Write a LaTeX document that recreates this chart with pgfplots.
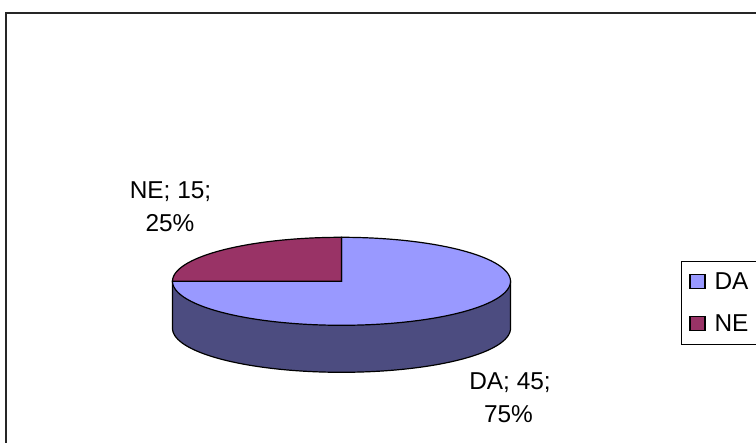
\documentclass[border=0pt]{standalone}
\usepackage{fontspec}
\setmainfont{Liberation Sans}
\usepackage{pgfplots}
\usepackage{pgfplotstable}
\pgfplotsset{compat=1.18}
\definecolor{cDA}{HTML}{9999FF}
\definecolor{cNE}{HTML}{993366}
\definecolor{cSide}{HTML}{4C4C80}
\pgfplotstableread{
label value
DA 45
NE 15
}\piedata
\begin{document}
\begin{tikzpicture}
\pgfplotstablegetelem{0}{value}\of\piedata \let\vDA\pgfplotsretval
\pgfplotstablegetelem{1}{value}\of\piedata \let\vNE\pgfplotsretval
\pgfmathsetmacro{\tot}{\vDA+\vNE}
\pgfmathsetmacro{\aEnd}{90-360*\vDA/\tot}
\pgfmathsetmacro{\aNE}{\aEnd-360*\vNE/\tot}
\def\cx{341.5}\def\cy{161.7}\def\rx{169}\def\ry{44}\def\dep{47}
\begin{axis}[scale only axis, width=756bp, height=443bp,
  xmin=0, xmax=756, ymin=0, ymax=443, hide axis, clip=false,
  legend style={at={(axis cs:681,182)}, anchor=north west, draw=black,
    line width=0.8bp, font=\fontsize{24.5}{29}\selectfont,
    inner xsep=8bp, inner ysep=11.5bp, row sep=23.5bp, column sep=9bp,
    nodes={inner sep=0pt}, cells={anchor=west}},
  legend image code/.code={\draw[#1, line width=1.1bp] (0bp,-6.3bp) rectangle (15bp,7.7bp);}]
% outer frame
\addplot[draw=black!85, line width=2bp, forget plot] coordinates {(759,430) (6,430) (6,-3)};
% side wall (front half belongs to DA)
\addplot[fill=cSide, draw=black, line width=1.2bp, domain=180:360, samples=120, forget plot]
  ({\cx+\rx*cos(x)},{\cy-\dep+\ry*sin(x)}) -- (axis cs:\cx+\rx,\cy) -- (axis cs:\cx-\rx,\cy) -- cycle;
% top face slices
\addplot[fill=cDA, draw=black, line width=1.2bp, domain=\aEnd:90, samples=160, forget plot]
  ({\cx+\rx*cos(x)},{\cy+\ry*sin(x)}) -- (axis cs:\cx,\cy) -- cycle;
\addplot[fill=cNE, draw=black, line width=1.2bp, domain=\aNE:\aEnd, samples=80, forget plot]
  ({\cx+\rx*cos(x)},{\cy+\ry*sin(x)}) -- (axis cs:\cx,\cy) -- cycle;
\addlegendimage{fill=cDA, draw=black}
\addlegendentry{DA}
\addlegendimage{fill=cNE, draw=black}
\addlegendentry{NE}
% data labels
\node[anchor=base, font=\fontsize{24.5}{29}\selectfont, inner sep=0pt] at (axis cs:170.5,244.7) {NE; \vNE;};
\node[anchor=base, font=\fontsize{24.5}{29}\selectfont, inner sep=0pt] at (axis cs:170,211) {25\%};
\node[anchor=base, font=\fontsize{24.5}{29}\selectfont, inner sep=0pt] at (axis cs:510,53) {DA; \vDA;};
\node[anchor=base, font=\fontsize{24.5}{29}\selectfont, inner sep=0pt] at (axis cs:508.5,21) {75\%};
\end{axis}
\pgfresetboundingbox
\path[use as bounding box] (0,0) rectangle (756bp,443bp);
\end{tikzpicture}
\end{document}
